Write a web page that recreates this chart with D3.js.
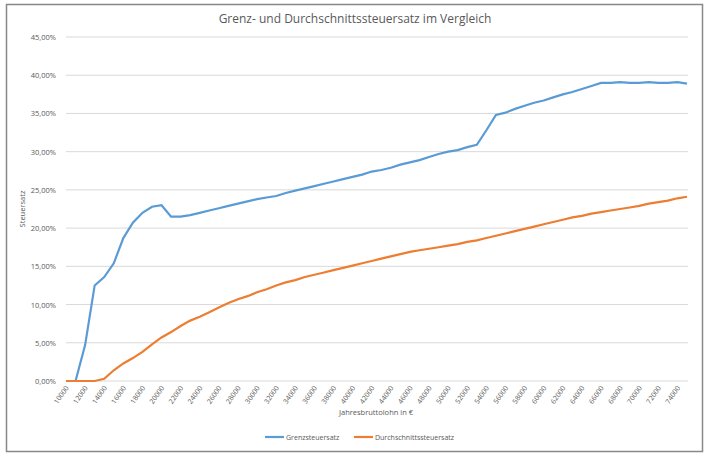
<!DOCTYPE html><html><head><meta charset="utf-8"><script src="https://cdn.jsdelivr.net/npm/d3@7"></script>
<style>body{margin:0;background:#fff;font-family:"Open Sans",Calibri,sans-serif}</style></head><body><svg id="c" width="710" height="457"></svg><script>
const incomes = d3.range(10000, 75001, 1000);
const grenz = [0,0,4.7,12.5,13.6,15.4,18.7,20.7,22.0,22.8,23.0,21.5,21.5,21.7,22.0,22.3,22.6,22.9,23.2,23.5,23.8,24.0,24.2,24.6,24.9,25.2,25.5,25.8,26.1,26.4,26.7,27.0,27.4,27.6,27.9,28.3,28.6,28.9,29.3,29.7,30.0,30.2,30.6,30.9,32.8,34.8,35.1,35.6,36.0,36.4,36.7,37.1,37.5,37.8,38.2,38.6,39.0,39.0,39.1,39.0,39.0,39.1,39.0,39.0,39.1,38.9];
const durch = [0,0,0,0,0.3,1.4,2.3,3.0,3.8,4.8,5.7,6.4,7.2,7.9,8.4,9.0,9.6,10.2,10.7,11.1,11.6,12.0,12.5,12.9,13.2,13.6,13.9,14.2,14.5,14.8,15.1,15.4,15.7,16.0,16.3,16.6,16.9,17.1,17.3,17.5,17.7,17.9,18.2,18.4,18.7,19.0,19.3,19.6,19.9,20.2,20.5,20.8,21.1,21.4,21.6,21.9,22.1,22.3,22.5,22.7,22.9,23.2,23.4,23.6,23.9,24.1];
const yTicks = d3.range(0, 45.01, 5);
const tickLabels = d3.range(10000, 74001, 2000);
const seriesNames = ["Grenzsteuersatz","Durchschnittssteuersatz"];
const colors = ["#5b9bd5","#ed7d31"];

const svg = d3.select("#c");
svg.append("rect").attr("x",6.5).attr("y",4.5).attr("width",696).attr("height",447).attr("fill","#fff").attr("stroke","#888").attr("stroke-width",1.5);
const x = d3.scalePoint().domain(incomes).range([66,687]);
const y = d3.scaleLinear().domain([0,45]).range([381,37]);
const fmt = v => d3.format(".2f")(v).replace(".",",")+"%";
svg.append("g").selectAll("line").data(yTicks).join("line")
 .attr("x1",66).attr("x2",688).attr("y1",d=>y(d)).attr("y2",d=>y(d)).attr("stroke","#d9d9d9");
svg.append("g").selectAll("text").data(yTicks).join("text")
 .attr("x",56).attr("y",d=>y(d)+3).attr("text-anchor","end").attr("font-size",7.5).attr("fill","#595959").text(fmt);
svg.append("g").selectAll("text").data(tickLabels).join("text")
 .attr("transform",d=>`translate(${x(d)+3},${388}) rotate(-55)`).attr("text-anchor","end")
 .attr("font-size",7).attr("fill","#595959").text(d=>d);
const line = d3.line().x((d,i)=>x(incomes[i])).y(d=>y(d));
[grenz,durch].forEach((s,k)=>svg.append("path").datum(s).attr("d",line).attr("fill","none").attr("stroke",colors[k]).attr("stroke-width",2.2));
svg.append("text").attr("x",355).attr("y",23).attr("text-anchor","middle").attr("font-size",12).attr("fill","#595959").text("Grenz- und Durchschnittssteuersatz im Vergleich");
svg.append("text").attr("transform","translate(25,209) rotate(-90)").attr("text-anchor","middle").attr("font-size",7.5).attr("fill","#595959").text("Steuersatz");
svg.append("text").attr("x",376).attr("y",415).attr("text-anchor","middle").attr("font-size",7.5).attr("fill","#595959").text("Jahresbruttolohn in €");
const lx=[265,354];
seriesNames.forEach((n,k)=>{
 svg.append("line").attr("x1",lx[k]).attr("x2",lx[k]+19).attr("y1",437).attr("y2",437).attr("stroke",colors[k]).attr("stroke-width",2.2);
 svg.append("text").attr("x",lx[k]+21).attr("y",440).attr("font-size",7).attr("fill","#595959").text(n);
});
</script></body></html>
